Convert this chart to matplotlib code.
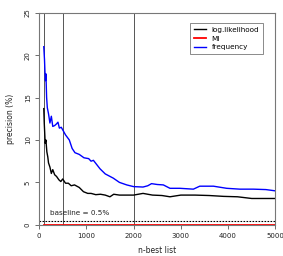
import matplotlib
matplotlib.use("Agg")
import matplotlib.pyplot as plt

# n-best list positions and precision (%)
freq_x = [100, 115, 125, 135, 145, 160, 175, 200, 230, 260, 290, 330, 370, 400, 430, 470,
          500, 560, 640, 700, 760, 850, 950, 1050, 1100, 1150, 1290, 1400, 1570, 1700, 1855,
          2000, 2200, 2300, 2380, 2500, 2630, 2770, 2980, 3265, 3400, 3690, 3970, 4250, 4535,
          4800, 5000]
freq_y = [21.0, 19.5, 18.0, 17.0, 17.8, 15.0, 13.8, 13.1, 12.0, 12.8, 11.6, 11.7, 11.9, 12.1,
          11.4, 11.5, 11.2, 10.6, 10.0, 9.0, 8.5, 8.3, 7.9, 7.8, 7.5, 7.6, 6.6, 6.0, 5.5, 5.0, 4.7,
          4.5, 4.45, 4.6, 4.85, 4.75, 4.7, 4.3, 4.3, 4.2, 4.55, 4.55, 4.3, 4.2, 4.2, 4.15, 4.0]

ll_x = [100, 110, 120, 130, 145, 165, 185, 200, 230, 260, 290, 330, 370, 420, 460, 500,
        560, 620, 680, 750, 850, 940, 1030, 1100, 1200, 1300, 1400, 1500, 1580, 1700, 1855,
        2000, 2200, 2400, 2600, 2770, 3000, 3300, 3600, 3900, 4200, 4500, 4800, 5000]
ll_y = [13.7, 12.0, 10.8, 9.6, 10.0, 8.6, 8.0, 7.3, 6.8, 6.05, 6.5, 5.9, 5.7, 5.3, 5.1, 5.4,
        4.9, 4.9, 4.6, 4.7, 4.4, 3.9, 3.7, 3.7, 3.55, 3.6, 3.5, 3.3, 3.6, 3.5, 3.5,
        3.5, 3.7, 3.5, 3.45, 3.3, 3.5, 3.5, 3.45, 3.35, 3.3, 3.1, 3.1, 3.1]

mi_x = [100, 5000]
mi_y = [0.0, 0.0]

cutoffs = [100, 500, 2000]
baseline = 0.5

fig = plt.figure(figsize=(2.83, 2.56), dpi=100)
ax = fig.add_axes([0.138, 0.122, 0.835, 0.828])

for c in cutoffs:
    ax.axvline(c, color="#555555", lw=0.7)
ax.axhline(baseline, color="black", lw=0.8, ls=(0, (1.5, 1.2)))
ax.text(230, 1.0, "baseline = 0.5%", fontsize=5.2, color="#222222", ha="left", va="bottom")

ax.plot(ll_x, ll_y, color="black", lw=1.0, label="log.likelihood")
ax.plot(mi_x, mi_y, color="red", lw=1.3, label="MI", clip_on=False)
ax.plot(freq_x, freq_y, color="blue", lw=1.0, label="frequency")

ax.set_xlim(0, 5000)
ax.set_ylim(0, 25)
ax.set_xticks([0, 1000, 2000, 3000, 4000, 5000])
ax.set_yticks([0, 5, 10, 15, 20, 25])
ax.tick_params(labelsize=5.0, length=3, width=0.6, color="#555555", labelcolor="#222222", pad=3)
for lab in ax.get_yticklabels():
    lab.set_rotation(90)
    lab.set_va("center")
for s in ax.spines.values():
    s.set_color("#777777")
    s.set_linewidth(0.8)

ax.set_xlabel("n-best list", fontsize=5.5, color="#222222", labelpad=5)
ax.set_ylabel("precision (%)", fontsize=5.5, color="#222222", labelpad=7)

leg = ax.legend(loc="upper right", bbox_to_anchor=(0.948, 0.952), fontsize=5.2, frameon=True,
                fancybox=False, handlelength=1.6, handletextpad=0.8, borderpad=0.55,
                labelspacing=0.35, borderaxespad=0)
leg.get_frame().set_edgecolor("#555555")
leg.get_frame().set_linewidth(0.6)

fig.savefig("out.png", dpi=100)
